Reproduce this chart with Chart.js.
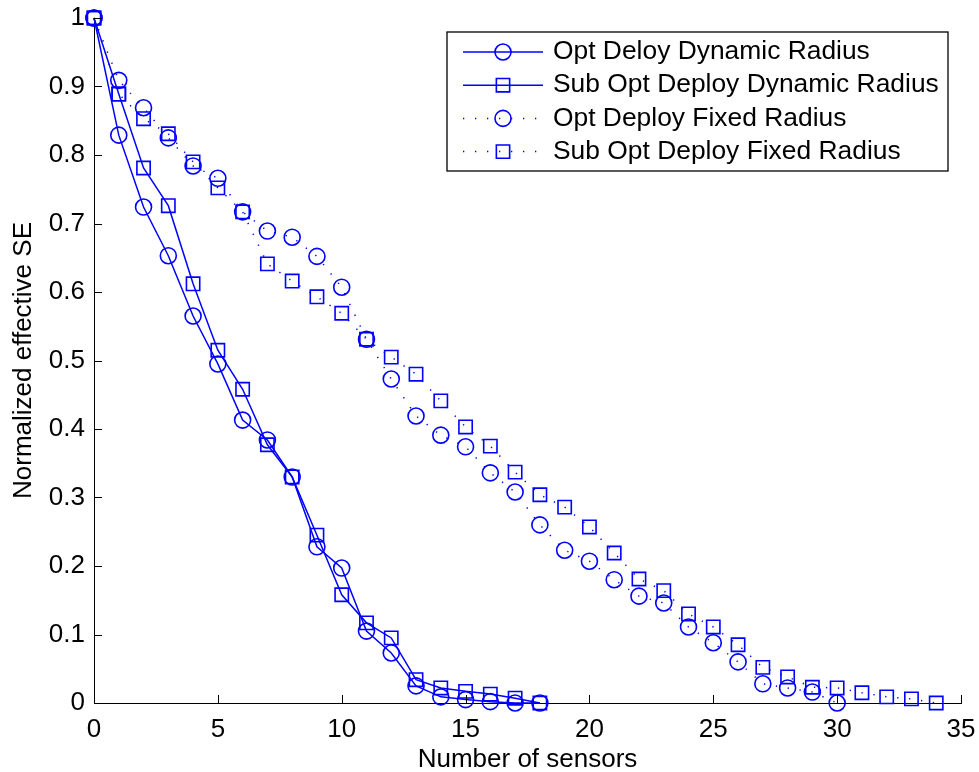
<!DOCTYPE html>
<html>
<head>
<meta charset="utf-8">
<script src="https://cdn.jsdelivr.net/npm/chart.js@4/dist/chart.umd.min.js"></script>
<style>
  html, body { margin: 0; padding: 0; background: #fff; }
  #wrap { width: 979px; height: 772px; }
</style>
</head>
<body>
<div id="wrap"><canvas id="c" width="979" height="772"></canvas></div>
<script>
// Number of deployed sensors (x positions of each series)
const sensorsDynamic = [0,1,2,3,4,5,6,7,8,9,10,11,12,13,14,15,16,17,18];
const sensorsOptFixed = [0,1,2,3,4,5,6,7,8,9,10,11,12,13,14,15,16,17,18,19,20,21,22,23,24,25,26,27,28,29,30];
const sensorsSubFixed = [0,1,2,3,4,5,6,7,8,9,10,11,12,13,14,15,16,17,18,19,20,21,22,23,24,25,26,27,28,29,30,31,32,33,34];

// Normalized effective SE for each deployment strategy
const optDynamic = [1.0,0.829,0.724,0.653,0.565,0.495,0.413,0.384,0.330,0.228,0.197,0.105,0.073,0.025,0.009,0.005,0.002,0.0,0.0];
const subOptDynamic = [1.0,0.889,0.781,0.726,0.612,0.515,0.458,0.377,0.330,0.245,0.158,0.117,0.095,0.034,0.022,0.017,0.013,0.007,0.0];
const optFixed = [1.0,0.909,0.869,0.825,0.784,0.766,0.717,0.689,0.680,0.652,0.607,0.531,0.473,0.419,0.391,0.374,0.336,0.308,0.260,0.223,0.207,0.180,0.156,0.146,0.111,0.088,0.060,0.028,0.022,0.016,0.0];
const subOptFixed = [1.0,0.889,0.853,0.831,0.790,0.752,0.717,0.641,0.616,0.593,0.569,0.531,0.505,0.480,0.441,0.403,0.375,0.337,0.304,0.286,0.257,0.219,0.181,0.164,0.130,0.111,0.085,0.052,0.038,0.023,0.022,0.015,0.009,0.006,0.0];

const seriesNames = [
  'Opt Deloy Dynamic Radius',
  'Sub Opt Deploy Dynamic Radius',
  'Opt Deploy Fixed Radius',
  'Sub Opt Deploy Fixed Radius'
];

// Axis tick values
const xTicks = [0,5,10,15,20,25,30,35];
const yTicks = [0,0.1,0.2,0.3,0.4,0.5,0.6,0.7,0.8,0.9,1];

const BLUE = '#0000ff';
const FONT = '"Liberation Sans", Arial, Helvetica, sans-serif';
const FONT_SIZE = 26;
const LEGEND_FONT_SIZE = 26.4;
const DOT_DASH = [1.3, 10.7];

function pts(xs, ys) { return xs.map((x, i) => ({ x: x, y: ys[i] })); }

function series(label, xs, ys, marker, dotted) {
  return {
    label: label,
    data: pts(xs, ys),
    borderColor: BLUE,
    backgroundColor: 'rgba(0,0,0,0)',
    borderWidth: 1.5,
    borderDash: dotted ? DOT_DASH : [],
    pointStyle: marker,
    pointRadius: marker === 'rect' ? 9.4 : 8,
    pointHoverRadius: marker === 'rect' ? 9.4 : 8,
    pointBorderColor: BLUE,
    pointBackgroundColor: 'rgba(0,0,0,0)',
    pointBorderWidth: 1.6,
    tension: 0,
    fill: false,
    clip: false
  };
}

// Inward tick marks on the left and bottom axes
const inwardTicks = {
  id: 'inwardTicks',
  afterDraw(chart) {
    const { ctx, chartArea, scales } = chart;
    const len = 8;
    ctx.save();
    ctx.strokeStyle = '#000';
    ctx.lineWidth = 1;
    xTicks.forEach(v => {
      const px = Math.round(scales.x.getPixelForValue(v)) + 0.5;
      ctx.beginPath();
      ctx.moveTo(px, chartArea.bottom);
      ctx.lineTo(px, chartArea.bottom - len);
      ctx.stroke();
    });
    yTicks.forEach(v => {
      const py = Math.round(scales.y.getPixelForValue(v)) + 0.5;
      ctx.beginPath();
      ctx.moveTo(chartArea.left, py);
      ctx.lineTo(chartArea.left + len, py);
      ctx.stroke();
    });
    ctx.restore();
  }
};

// Boxed legend showing each line style with its marker
const boxedLegend = {
  id: 'boxedLegend',
  afterDraw(chart) {
    const { ctx } = chart;
    const box = { left: 447, top: 32, right: 948, bottom: 171 };
    const rowY0 = 52, rowGap = 33.2;
    const lineX0 = 463, lineX1 = 543, markX = 503, textX = 553;
    ctx.save();
    ctx.fillStyle = '#fff';
    ctx.fillRect(box.left, box.top, box.right - box.left, box.bottom - box.top);
    ctx.strokeStyle = '#000';
    ctx.lineWidth = 1.3;
    ctx.strokeRect(box.left, box.top, box.right - box.left, box.bottom - box.top);
    chart.data.datasets.forEach((ds, i) => {
      const y = rowY0 + i * rowGap;
      ctx.save();
      ctx.strokeStyle = ds.borderColor;
      ctx.lineWidth = ds.borderWidth;
      ctx.setLineDash(ds.borderDash || []);
      ctx.beginPath();
      ctx.moveTo(lineX0, y);
      ctx.lineTo(lineX1, y);
      ctx.stroke();
      ctx.restore();
      ctx.save();
      ctx.strokeStyle = ds.pointBorderColor;
      ctx.fillStyle = 'rgba(0,0,0,0)';
      ctx.lineWidth = ds.pointBorderWidth;
      ctx.setLineDash([]);
      Chart.helpers.drawPoint(ctx, {
        pointStyle: ds.pointStyle,
        radius: ds.pointRadius,
        borderWidth: ds.pointBorderWidth,
        rotation: 0
      }, markX, y);
      ctx.restore();
      ctx.fillStyle = '#000';
      ctx.font = LEGEND_FONT_SIZE + 'px ' + FONT;
      ctx.textBaseline = 'middle';
      ctx.textAlign = 'left';
      ctx.fillText(ds.label, textX, y);
    });
    ctx.restore();
  }
};

// Keep the plot frame fixed: no extra room reserved for overhanging tick labels
function noOverhang(scale) {
  scale.paddingLeft = 0;
  scale.paddingRight = 0;
  scale.paddingTop = 0;
  scale.paddingBottom = 0;
}

const fontSpec = { family: FONT, size: FONT_SIZE };

new Chart(document.getElementById('c'), {
  type: 'line',
  data: {
    datasets: [
      series(seriesNames[0], sensorsDynamic, optDynamic, 'circle', false),
      series(seriesNames[1], sensorsDynamic, subOptDynamic, 'rect', false),
      series(seriesNames[2], sensorsOptFixed, optFixed, 'circle', true),
      series(seriesNames[3], sensorsSubFixed, subOptFixed, 'rect', true)
    ]
  },
  options: {
    responsive: false,
    animation: false,
    devicePixelRatio: 1,
    layout: { padding: { top: 18, right: 18, left: 0, bottom: 0 } },
    plugins: {
      legend: { display: false },
      tooltip: { enabled: false },
      title: { display: false }
    },
    scales: {
      x: {
        type: 'linear',
        min: 0, max: 35,
        afterBuildTicks(scale) { scale.ticks = xTicks.map(v => ({ value: v })); },
        afterFit(scale) { scale.height = 69; noOverhang(scale); },
        grid: { display: false, drawTicks: false },
        border: { display: true, color: '#000', width: 1 },
        ticks: { color: '#000', font: fontSpec, padding: 11, maxRotation: 0, autoSkip: false,
                 callback: v => String(v) },
        title: { display: true, text: 'Number of sensors', color: '#000', font: fontSpec,
                 padding: { top: 0, bottom: -3 } }
      },
      y: {
        type: 'linear',
        min: 0, max: 1,
        afterBuildTicks(scale) { scale.ticks = yTicks.map(v => ({ value: v })); },
        afterFit(scale) { scale.width = 94; noOverhang(scale); },
        grid: { display: false, drawTicks: false },
        border: { display: true, color: '#000', width: 1 },
        ticks: { color: '#000', font: fontSpec, padding: 9, autoSkip: false,
                 callback: v => String(Math.round(v * 10) / 10) },
        title: { display: true, text: 'Normalized effective SE', color: '#000', font: fontSpec,
                 padding: { top: 8, bottom: 0 } }
      }
    }
  },
  plugins: [inwardTicks, boxedLegend]
});
</script>
</body>
</html>
